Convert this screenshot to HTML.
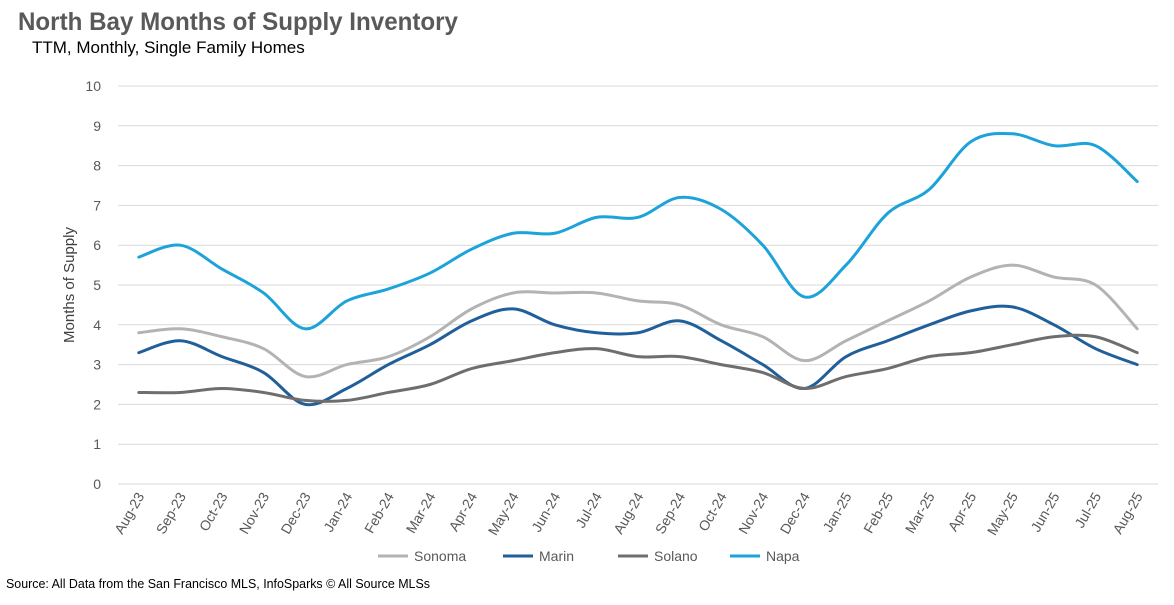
<!DOCTYPE html>
<html><head><meta charset="utf-8"><style>
body{margin:0;background:#fff;font-family:"Liberation Sans",sans-serif;}
svg text{font-family:"Liberation Sans",sans-serif;}
</style></head><body>
<svg id="chart" width="1174" height="600" xmlns="http://www.w3.org/2000/svg">
<text x="18" y="30" font-size="25" font-weight="bold" fill="#595959" textLength="440" lengthAdjust="spacingAndGlyphs">North Bay Months of Supply Inventory</text>
<text x="32" y="53" font-size="17" fill="#000">TTM, Monthly, Single Family Homes</text>
<text transform="translate(74,285) rotate(-90)" text-anchor="middle" font-size="15" fill="#404040">Months of Supply</text>
<text x="6" y="588" font-size="13" fill="#000" textLength="424" lengthAdjust="spacingAndGlyphs">Source: All Data from the San Francisco MLS, InfoSparks © All Source MLSs</text>
<g id="grid"></g><g id="xlabels"></g><g id="series"></g><g id="legend"></g>
</svg>
<script>
const categories=["Aug-23","Sep-23","Oct-23","Nov-23","Dec-23","Jan-24","Feb-24","Mar-24","Apr-24","May-24","Jun-24","Jul-24","Aug-24","Sep-24","Oct-24","Nov-24","Dec-24","Jan-25","Feb-25","Mar-25","Apr-25","May-25","Jun-25","Jul-25","Aug-25"];
const yTicks=[0,1,2,3,4,5,6,7,8,9,10];
const sonoma=[3.8,3.9,3.7,3.4,2.7,3.0,3.2,3.7,4.4,4.8,4.8,4.8,4.6,4.5,4.0,3.7,3.1,3.6,4.1,4.6,5.2,5.5,5.2,5.0,3.9];
const marin=[3.3,3.6,3.2,2.8,2.0,2.4,3.0,3.5,4.1,4.4,4.0,3.8,3.8,4.1,3.6,3.0,2.4,3.2,3.6,4.0,4.35,4.45,4.0,3.4,3.0];
const solano=[2.3,2.3,2.4,2.3,2.1,2.1,2.3,2.5,2.9,3.1,3.3,3.4,3.2,3.2,3.0,2.8,2.4,2.7,2.9,3.2,3.3,3.5,3.7,3.7,3.3];
const napa=[5.7,6.0,5.4,4.8,3.9,4.6,4.9,5.3,5.9,6.3,6.3,6.7,6.7,7.2,6.9,6.0,4.7,5.5,6.8,7.4,8.6,8.8,8.5,8.5,7.6];
const seriesNames=["Sonoma","Marin","Solano","Napa"];
const NS="http://www.w3.org/2000/svg";
const L=118,R=1158,T=86,B=484;
const x=i=>L+(R-L)/categories.length*(i+0.5);
const y=v=>B-(B-T)*v/10;
function mk(t,a,p){const e=document.createElementNS(NS,t);for(const k in a)e.setAttribute(k,a[k]);p.appendChild(e);return e;}
const grid=document.getElementById('grid');
yTicks.forEach(v=>{
 const ln=mk('line',{x1:L,x2:R,y1:y(v),y2:y(v),stroke:'#d9d9d9','stroke-width':1},grid);
 
 
 const t=mk('text',{x:101,y:y(v)+5,'text-anchor':'end','font-size':14,fill:'#595959'},grid);
 t.textContent=v;
 
 
});
const xl=document.getElementById('xlabels');
categories.forEach((c,i)=>{
 const t=mk('text',{transform:`translate(${x(i)+6},${B+12}) rotate(-60)`,'text-anchor':'end','font-size':14,fill:'#595959'},xl);
 t.textContent=c;
 
 
});
function pathD(vals){
 const p=vals.map((v,i)=>[x(i),y(v)]);
 let d=`M${p[0][0]},${p[0][1]}`;
 for(let i=0;i<p.length-1;i++){
  const p0=p[i-1]||p[i],p1=p[i],p2=p[i+1],p3=p[i+2]||p[i+1];
  const c1=[p1[0]+(p2[0]-p0[0])/6,p1[1]+(p2[1]-p0[1])/6];
  const c2=[p2[0]-(p3[0]-p1[0])/6,p2[1]-(p3[1]-p1[1])/6];
  d+=`C${c1[0]},${c1[1]} ${c2[0]},${c2[1]} ${p2[0]},${p2[1]}`;
 }
 return d;
}
const colors=["#b3b3b3","#215f9a","#6e6e6e","#1ca3d9"];
const data=[sonoma,marin,solano,napa];
const sg=document.getElementById('series');
data.forEach((vals,k)=>{
 const pth=mk('path',{d:pathD(vals),fill:'none',stroke:colors[k],'stroke-width':3,'stroke-linejoin':'round','stroke-linecap':'round'},sg);
 
 
});
const lg=document.getElementById('legend');
const lx=[378,503,618,730];
seriesNames.forEach((n,k)=>{
 const ln=mk('line',{x1:lx[k],x2:lx[k]+30,y1:556,y2:556,stroke:colors[k],'stroke-width':3},lg);
 
 
 const t=mk('text',{x:lx[k]+36,y:561,'font-size':14,fill:'#595959'},lg);
 t.textContent=n;
 
 
});
</script>
</body></html>
